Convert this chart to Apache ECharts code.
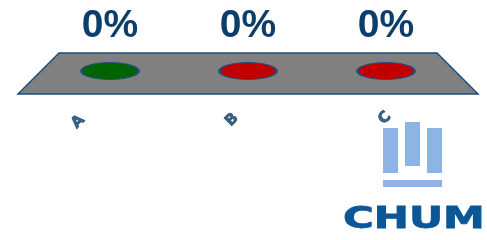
<!DOCTYPE html>
<html>
<head>
<meta charset="utf-8">
<script src="https://cdn.jsdelivr.net/npm/echarts@6/dist/echarts.min.js"></script>
<style>
  html, body { margin: 0; padding: 0; background: #fff; }
  #main { width: 487px; height: 240px; }
</style>
</head>
<body>
<div id="main"></div>
<script>
// données du vote
var categories = ['A', 'B', 'C']
var percents = [0, 0, 0]
var spotColors = ['#006400', '#c00000', '#c00000']

// décalage des étiquettes à l'écran (effet de perspective)
var labelShift = [[-32, 51], [-16, 49], [-1, 47]]
var labelRotate = 45

// l'offset est appliqué dans le repère tourné : on le ramène
function unrotate(d) {
  var a = labelRotate * Math.PI / 180
  var c = Math.cos(a), s = Math.sin(a)
  return [d[0] * c - d[1] * s, d[0] * s + d[1] * c]
}

var myChart = echarts.init(document.getElementById('main'))

var option = {
  animation: false,
  grid: { left: 41, right: 32, top: 20, bottom: 169 },
  xAxis: {
    type: 'category',
    data: categories,
    show: false
  },
  yAxis: {
    type: 'value',
    min: 0,
    max: 100,
    show: false
  },
  graphic: [
    {
      type: 'polygon',
      z: -10,
      shape: { points: [[59, 53], [437, 53], [478, 94], [18, 94]] },
      style: { fill: '#808080', stroke: '#1f4e79', lineWidth: 1.5 }
    },
    // logo CHUM
    { type: 'rect', shape: { x: 383, y: 128, width: 15, height: 45 }, style: { fill: '#8db4e2' } },
    { type: 'rect', shape: { x: 405, y: 122, width: 15, height: 44 }, style: { fill: '#8db4e2' } },
    { type: 'rect', shape: { x: 427, y: 128, width: 15, height: 45 }, style: { fill: '#8db4e2' } },
    { type: 'rect', shape: { x: 383, y: 180, width: 59, height: 7 }, style: { fill: '#8db4e2' } },
    {
      type: 'text',
      x: 343,
      y: 205,
      scaleX: 1.4,
      style: {
        text: 'CHUM',
        font: 'bold 30px "DejaVu Sans"',
        fill: '#0b5796',
        stroke: '#0b5796',
        lineWidth: 0.8,
        textAlign: 'left',
        textVerticalAlign: 'top'
      }
    }
  ],
  series: [
    {
      type: 'scatter',
      silent: true,
      symbol: 'circle',
      symbolSize: [57, 17],
      data: percents.map(function (v, i) {
        return {
          value: [categories[i], v],
          itemStyle: { color: spotColors[i] }
        }
      }),
      itemStyle: { borderColor: '#1f4e79', borderWidth: 1.5, opacity: 1 },
      label: {
        show: true,
        position: 'top',
        distance: 16,
        formatter: function (p) { return p.value[1] + '%' },
        fontFamily: 'Liberation Sans',
        fontWeight: 'bold',
        fontSize: 39,
        color: '#0d3d6b'
      }
    },
    {
      type: 'scatter',
      silent: true,
      symbolSize: 0,
      clip: false,
      data: categories.map(function (c, i) {
        return {
          value: [c, 0],
          label: { offset: unrotate(labelShift[i]) }
        }
      }),
      label: {
        show: true,
        position: 'inside',
        rotate: labelRotate,
        formatter: function (p) { return p.value[0] },
        fontFamily: 'DejaVu Sans',
        fontWeight: 'bold',
        fontSize: 15,
        color: '#0d3d6b',
        textBorderColor: '#0d3d6b',
        textBorderWidth: 0.8
      }
    }
  ]
}

myChart.setOption(option)
</script>
</body>
</html>
